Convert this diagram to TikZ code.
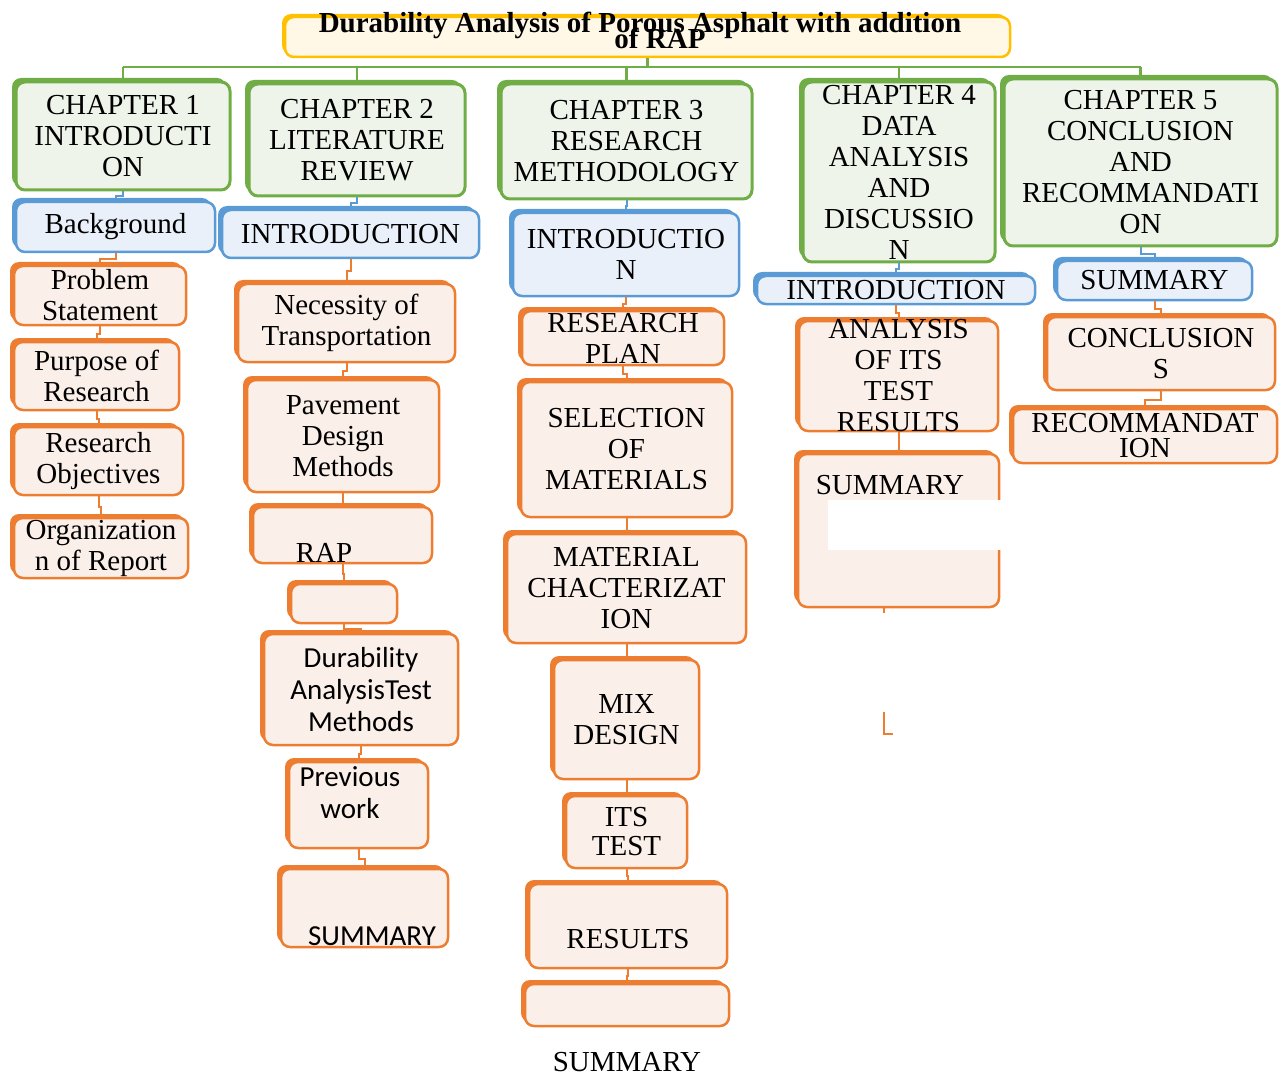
\documentclass[tikz,border=0pt]{standalone}
\usepackage{fontspec}
\setmainfont{Liberation Serif}
\newfontfamily\calibri{Carlito}
\usepackage{tikz}
\usetikzlibrary{shadows,calc}

\definecolor{grnC}{HTML}{70AD47}
\definecolor{grnF}{HTML}{EEF4EA}
\definecolor{bluC}{HTML}{5B9BD5}
\definecolor{bluF}{HTML}{EAF0F9}
\definecolor{orgC}{HTML}{ED7D31}
\definecolor{orgF}{HTML}{FBEFE9}
\definecolor{ylwC}{HTML}{FFC000}
\definecolor{ylwF}{HTML}{FFF8E7}

\begin{document}
\begin{tikzpicture}[x=1pt, y=-1pt,
    box/.style={rounded corners=9pt, line width=2.5pt, inner sep=-12pt, align=center,
      font={\fontsize{29}{31}\selectfont\lineskiplimit-40pt}},
    sz/.style 2 args={minimum width=#1pt, minimum height=#2pt},
    grn/.style={box, draw=grnC, fill=grnF, line width=3pt,
      general shadow={fill=grnC, shadow xshift=-4pt, shadow yshift=4pt}},
    blu/.style={box, draw=bluC, fill=bluF,
      general shadow={fill=bluC, shadow xshift=-4pt, shadow yshift=4pt}},
    org/.style={box, draw=orgC, fill=orgF,
      general shadow={fill=orgC, shadow xshift=-4pt, shadow yshift=4pt}},
    ttl/.style={box, draw=ylwC, fill=ylwF,
      general shadow={fill=ylwC, shadow xshift=-3pt, shadow yshift=3pt}},
    txt/.style={inner sep=0pt, align=center, font={\fontsize{29}{31}\selectfont}},
    cal/.style={font={\calibri\fontsize{29}{32}\selectfont\lineskiplimit-40pt}},
    gline/.style={color=grnC, line width=2.5pt},
    bline/.style={color=bluC, line width=2pt},
    oline/.style={color=orgC, line width=2pt},
    elbow/.style={to path={(\tikztostart) |- ($(\tikztostart)!.5!(\tikztotarget)$) -| (\tikztotarget)}}]
  \useasboundingbox (0,0) rectangle (1283,1078);

  % title and chapters
  \node[ttl, sz={725}{40}] (ttl) at (647.5,37) {};
  \node[txt, font={\bfseries\fontsize{29}{16}\selectfont\lineskiplimit-40pt}] (ttlT) at (640,30)
    {Durability Analysis of Porous Asphalt with addition\\\hspace*{40pt}of RAP};
  \node[grn, sz={214}{108}] (ch1) at (123,136) {CHAPTER 1\\INTRODUCTI\\ON};
  \node[grn, sz={216}{112}] (ch2) at (357,140) {CHAPTER 2\\LITERATURE\\REVIEW};
  \node[grn, sz={251}{115}] (ch3) at (626.5,141.5) {CHAPTER 3\\RESEARCH\\METHODOLOGY};
  \node[grn, sz={192}{180}] (ch4) at (899,172) {CHAPTER 4\\DATA\\ANALYSIS\\AND\\DISCUSSIO\\N};
  \node[grn, sz={273}{167}] (ch5) at (1140.5,162.5) {CHAPTER 5\\CONCLUSION\\AND\\RECOMMANDATI\\ON};

  \coordinate (bus) at (0,67);
  \draw[gline] (ttl.south) -- (ttl.south |- bus);
  \draw[gline] (ch1.north |- bus) -- (ch5.north |- bus);
  \foreach \c in {ch1,ch2,ch3,ch4,ch5}
    \draw[gline] (\c.north |- bus) -- (\c.north);

  % chapter 1
  \node[blu, sz={199}{50}] (bg) at (115.5,227) {Background};
  \node[org, sz={172}{59}] (ps) at (100,295.5) {Problem\\Statement};
  \node[org, sz={165}{68}] (pr) at (96.5,376) {Purpose of\\Research};
  \node[org, sz={169}{68}] (ro) at (98.5,461) {Research\\Objectives};
  \node[org, sz={174}{60}] (or) at (101,548) {Organization\\n of Report};

  % chapter 2
  \node[blu, sz={257}{48}] (intro2) at (350.5,234) {INTRODUCTION};
  \node[org, sz={217}{78}] (nt) at (346.5,323) {Necessity of\\Transportation};
  \node[org, sz={192}{112}] (pd) at (343,436) {Pavement\\Design\\Methods};
  \node[org, sz={179}{56}] (rap) at (342.5,535) {};
  \node[txt] (rapT) at (324,553) {RAP};
  \node[org, sz={106}{39}] (emp2) at (344,603.5) {};
  \node[org, cal, sz={194}{111}] (da) at (361,689.5) {Durability\\AnalysisTest\\Methods};
  \node[org, sz={139}{86}] (pw) at (358.5,805) {};
  \node[txt, cal] (pwT) at (350,793) {Previous\\work};
  \node[org, sz={167}{78}] (sum2) at (364.5,908) {};
  \node[txt, cal] (sum2T) at (372,936) {SUMMARY};

  % chapter 3
  \node[blu, sz={226}{83}] (intro3) at (626,254.5) {INTRODUCTIO\\N};
  \node[org, sz={202}{54}] (rp) at (623,338) {RESEARCH\\PLAN};
  \node[org, sz={211}{135}] (sm) at (626.5,449.5) {SELECTION\\OF\\MATERIALS};
  \node[org, sz={239}{109}] (mc) at (626.5,588.5) {MATERIAL\\CHACTERIZAT\\ION};
  \node[org, sz={145}{119}] (md) at (626.5,719.5) {MIX\\DESIGN};
  \node[org, sz={121}{72}, font={\fontsize{29}{29}\selectfont}] (its) at (626.5,832) {ITS\\TEST};
  \node[org, sz={198}{84}] (res) at (628,926) {};
  \node[txt] (resT) at (628,939) {RESULTS};
  \node[org, sz={204}{42}] (emp3) at (627,1005) {};
  \node[txt] (sum3T) at (627,1062) {SUMMARY};

  % chapter 4
  \node[blu, sz={278}{28}] (intro4) at (896,290) {INTRODUCTION};
  \node[org, sz={199}{110}] (an) at (898.5,376) {ANALYSIS\\OF ITS\\TEST\\RESULTS};
  \node[org, sz={201}{153}] (sum4) at (898.5,530.5) {};
  \fill[white] (828,500) rectangle (1001,550);
  \node[txt] (sum4T) at (890,485) {SUMMARY};
  \coordinate (stub4) at (884,613);
  \coordinate (hookA) at (884,712);
  \coordinate (hookB) at (893,734);

  % chapter 5
  \node[blu, sz={195}{39}] (sum5) at (1154.5,280.5) {SUMMARY};
  \node[org, sz={228}{73}] (cs) at (1161,353.5) {CONCLUSION\\S};
  \node[org, sz={264}{54}, font={\fontsize{29}{25}\selectfont\lineskiplimit-40pt}] (rec) at (1145,436) {RECOMMANDAT\\ION};

  % connectors
  \path[bline] (ch1.south) edge[elbow] (bg.north)
    (ch2.south) edge[elbow] (intro2.north)
    (ch3.south) edge[elbow] (intro3.north)
    (ch4.south) edge[elbow] (intro4.north)
    (ch5.south) edge[elbow] (sum5.north);
  \path[oline] (bg.south) edge[elbow] (ps.north)
    (ps.south) edge[elbow] (pr.north)
    (pr.south) edge[elbow] (ro.north)
    (ro.south) edge[elbow] (or.north)
    (intro2.south) edge[elbow] (nt.north)
    (nt.south) edge[elbow] (pd.north)
    (pd.south) edge[elbow] (rap.north)
    (rap.south) edge[elbow] (emp2.north)
    (emp2.south) edge[elbow] (da.north)
    (da.south) edge[elbow] (pw.north)
    (pw.south) edge[elbow] (sum2.north)
    (intro3.south) edge[elbow] (rp.north)
    (rp.south) edge[elbow] (sm.north)
    (sm.south) edge[elbow] (mc.north)
    (mc.south) edge[elbow] (md.north)
    (md.south) edge[elbow] (its.north)
    (its.south) edge[elbow] (res.north)
    (res.south) edge[elbow] (emp3.north)
    (intro4.south) edge[elbow] (an.north)
    (an.south) edge[elbow] (sum4.north)
    (sum5.south) edge[elbow] (cs.north)
    (cs.south) edge[elbow] (rec.north);
  \draw[oline] (stub4 |- sum4.south) -- (stub4);
  \draw[oline] (hookA) |- (hookB);
\end{tikzpicture}
\end{document}
